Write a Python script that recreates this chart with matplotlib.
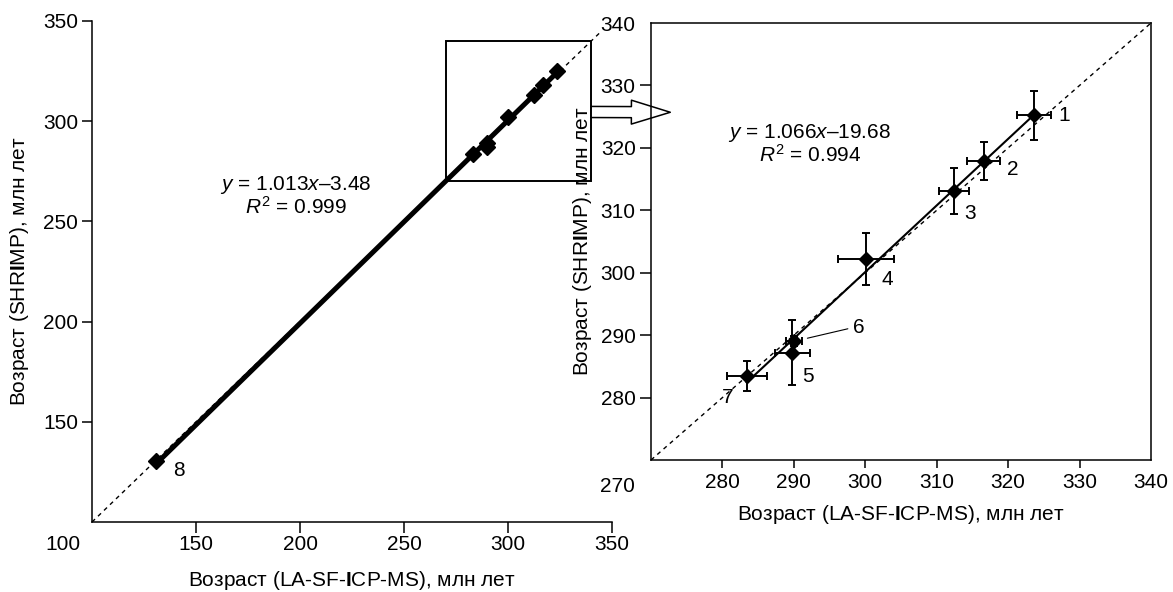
import matplotlib
matplotlib.use('Agg')
import matplotlib.pyplot as plt
from matplotlib.patches import Rectangle

plt.rcParams['font.family'] = ['Liberation Sans', 'DejaVu Sans']
plt.rcParams['mathtext.fontset'] = 'custom'
plt.rcParams['mathtext.rm'] = 'Liberation Sans'
plt.rcParams['mathtext.it'] = 'Liberation Sans:italic'
plt.rcParams['mathtext.bf'] = 'Liberation Sans:bold'

# zircon ages, Ma: LA-SF-ICP-MS (x) vs SHRIMP (y)
point_ids = ['1', '2', '3', '4', '5', '6', '7']
age_icpms = [323.6, 316.6, 312.4, 300.1, 289.8, 290.0, 283.4]
err_icpms = [2.4, 2.3, 2.1, 3.9, 2.5, 1.1, 2.8]
age_shrimp = [325.2, 317.9, 313.1, 302.2, 287.2, 289.0, 283.5]
err_shrimp = [3.9, 3.0, 3.7, 4.1, 5.2, 0.8, 2.4]

# sample 8 is shown only on the full-range plot
extra_id = '8'
extra_icpms = 131.0
extra_shrimp = 130.5

# linear fits: slope, intercept, R^2
fit_all = (1.013, -3.48, 0.999)
fit_zoom = (1.066, -19.68, 0.994)

xlabel = 'Возраст (LA-SF-$\\mathbf{I}$CP-MS), млн лет'
ylabel = 'Возраст (SHR$\\mathbf{I}$MP), млн лет'

# label offsets (points) for the sample numbers
label_offsets = [(22, 0), (21, -6), (12, -16), (15, -15), (11, -17), (47, 10), (-14, -16)]

FS = 15
LW = 1.1

fig = plt.figure(figsize=(11.73, 5.92), dpi=100)
ax1 = fig.add_axes([92 / 1173, 1 - 522 / 592, 520 / 1173, 501 / 592])
ax2 = fig.add_axes([651 / 1173, 1 - 460 / 592, 500 / 1173, 437 / 592])
ax2.patch.set_alpha(0)

# ---- full range ----
ax1.set_xlim(100, 350)
ax1.set_ylim(100, 350)
ax1.spines[['top', 'right']].set_visible(False)
ax1.plot([100, 345], [100, 345], color='black', lw=1.0, ls=(0, (3, 3)))

xs_all = [extra_icpms] + age_icpms
ys_all = [extra_shrimp] + age_shrimp
x0, x1 = min(xs_all), max(xs_all)
k, b, r2 = fit_all
ax1.plot([x0, x1], [k * x0 + b, k * x1 + b], color='black', lw=3.6, solid_capstyle='butt')
ax1.plot(xs_all, ys_all, 'D', color='black', ms=8)
ax1.annotate(extra_id, (extra_icpms, extra_shrimp), xytext=(16, -7),
             textcoords='offset points', ha='center', va='center', fontsize=FS)

ax1.add_patch(Rectangle((270, 270), 70, 70, fill=False, lw=1.4, ec='black', zorder=3))

ax1.text(0.392, 0.673, f'$y$ = {k:.3f}$x$–{abs(b):.2f}', transform=ax1.transAxes,
         ha='center', va='center', fontsize=FS)
ax1.text(0.392, 0.629, f'$R^2$ = {r2:.3f}', transform=ax1.transAxes,
         ha='center', va='center', fontsize=FS)

ax1.set_xticks([150, 200, 250, 300, 350])
ax1.set_yticks([150, 200, 250, 300, 350])
ax1.tick_params(axis='y', length=7, width=LW, pad=3, labelsize=FS)
ax1.tick_params(axis='x', length=8, width=LW, pad=1, labelsize=FS)
ax1.annotate('100', (0, 0), xycoords='axes fraction', xytext=(-21, -16),
             textcoords='offset points', ha='center', va='center', fontsize=FS)
ax1.set_xlabel(xlabel, fontsize=FS)
ax1.set_ylabel(ylabel, fontsize=FS)
ax1.xaxis.set_label_coords(0.5, -0.094)
ax1.yaxis.set_label_coords(-0.117, 0.5)

# ---- zoomed range ----
ax2.set_xlim(270, 340)
ax2.set_ylim(270, 340)
ax2.plot([270, 340], [270, 340], color='black', lw=1.0, ls=(0, (3, 3)))
k2, b2, r22 = fit_zoom
z0, z1 = min(age_icpms), max(age_icpms)
ax2.plot([z0, z1], [k2 * z0 + b2, k2 * z1 + b2], color='black', lw=1.5)
ax2.errorbar(age_icpms, age_shrimp, xerr=err_icpms, yerr=err_shrimp, fmt='D',
             color='black', ms=7, elinewidth=1.4, capsize=3, capthick=1.4)

for pid, x, y, off in zip(point_ids, age_icpms, age_shrimp, label_offsets):
    if pid == '6':
        ax2.annotate(pid, (x, y), xytext=off, textcoords='offset points',
                     ha='center', va='center', fontsize=FS,
                     arrowprops=dict(arrowstyle='-', lw=0.8, color='black',
                                     shrinkA=2, shrinkB=10, relpos=(0, 0.5)))
    else:
        ax2.annotate(pid, (x, y), xytext=off, textcoords='offset points',
                     ha='center', va='center', fontsize=FS)

ax2.text(0.318, 0.748, f'$y$ = {k2:.3f}$x$–{abs(b2):.2f}', transform=ax2.transAxes,
         ha='center', va='center', fontsize=FS)
ax2.text(0.318, 0.698, f'$R^2$ = {r22:.3f}', transform=ax2.transAxes,
         ha='center', va='center', fontsize=FS)

ticks2 = [280, 290, 300, 310, 320, 330, 340]
ax2.set_xticks(ticks2)
ax2.set_yticks(ticks2)
ax2.tick_params(axis='y', length=8, width=LW, pad=3, labelsize=FS)
ax2.tick_params(axis='x', length=6, width=LW, pad=3, labelsize=FS)
ax2.xaxis.get_major_ticks()[-1].tick1line.set_visible(False)
ax2.yaxis.get_major_ticks()[-1].tick1line.set_visible(False)
ax2.annotate('270', (0, 0), xycoords='axes fraction', xytext=(-24, -19),
             textcoords='offset points', ha='center', va='center', fontsize=FS)
ax2.set_xlabel(xlabel, fontsize=FS)
ax2.set_ylabel(ylabel, fontsize=FS)
ax2.xaxis.set_label_coords(0.5, -0.098)
ax2.yaxis.set_label_coords(-0.114, 0.5)

for ax in (ax1, ax2):
    for s in ax.spines.values():
        s.set_linewidth(LW)

# hollow arrow from the inset box to the zoomed plot
ax1.annotate('', xy=(272.7, 325.7), xycoords=ax2.transData,
             xytext=(340, 304.6), textcoords=ax1.transData,
             annotation_clip=False,
             arrowprops=dict(arrowstyle='simple,head_length=1.4,head_width=0.86,tail_width=0.4',
                             mutation_scale=20, fc='white', ec='black', lw=1.1,
                             shrinkA=0, shrinkB=0))

fig.savefig('out.png', dpi=100)
